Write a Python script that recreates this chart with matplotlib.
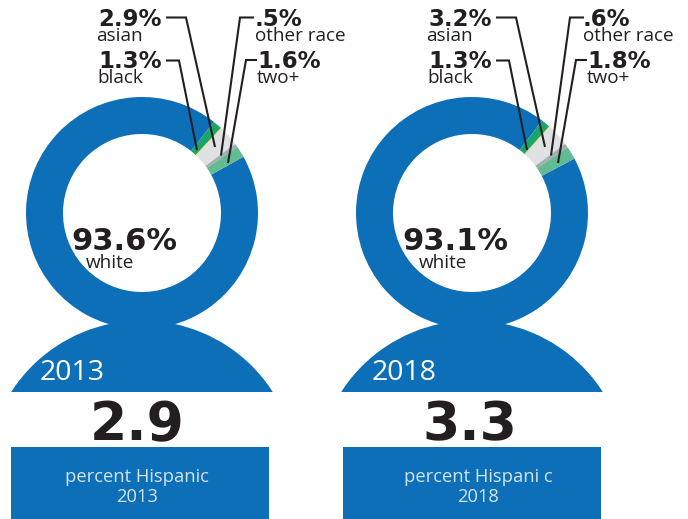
import matplotlib
matplotlib.use("Agg")
import matplotlib.pyplot as plt
from matplotlib.patches import Circle, Rectangle
import numpy as np

W, H = 688, 519
years = ["2013", "2018"]
groups = ["white", "black", "asian", "other race", "two+"]
shares_2013 = [93.6, 1.3, 2.9, 0.5, 1.6]
shares_2018 = [93.1, 1.3, 3.2, 0.6, 1.8]
hispanic = ["2.9", "3.3"]
white_labels = ["93.6%", "93.1%"]
black_labels = ["1.3%", "1.3%"]
asian_labels = ["2.9%", "3.2%"]
other_labels = [".5%", ".6%"]
two_labels = ["1.6%", "1.8%"]
footer_labels = ["percent Hispanic\n2013", "percent Hispani c\n2018"]

BLUE = "#0c6fb8"
INK = "#231f20"
slice_colors = [BLUE, "#1aa56f", "#e0e1e3", "#a9acb2", "#62bb92"]
NUM = "DejaVu Sans"
TXT = "Open Sans"
R_OUT, R_IN = 116, 79

fig = plt.figure(figsize=(W / 100, H / 100), dpi=100)
ax = fig.add_axes([0, 0, 1, 1])


def Y(y):
    return H - y


def panel(i, cx, shares, start_cw, yr_x, rect_x, foot_x, num_x, white_x, wl_x, dx, odx):
    cy = 213
    body = Circle((cx, Y(476)), 155.5, color=BLUE, lw=0, zorder=1)
    ax.add_patch(body)
    body.set_clip_path(Rectangle((0, Y(392)), W, 392, transform=ax.transData))
    wedges, _ = ax.pie(shares, colors=slice_colors, center=(cx, Y(cy)), radius=R_OUT,
                       startangle=90 - start_cw, counterclock=False,
                       wedgeprops=dict(width=R_OUT - R_IN, lw=0, zorder=2))
    # thin yellow seam between the black and asian slices
    a = np.deg2rad(wedges[1].theta1)
    ax.plot([cx + R_IN * np.cos(a), cx + R_OUT * np.cos(a)],
            [Y(cy) + R_IN * np.sin(a), Y(cy) + R_OUT * np.sin(a)],
            color="#e8d96a", lw=0.6, zorder=3, solid_capstyle="butt")

    ax.add_patch(Rectangle((rect_x, 0), 258, H - 447, color=BLUE, lw=0, zorder=1))
    ax.text(yr_x, Y(373), years[i], color="white", family=TXT, fontsize=20.5,
            ha="left", va="center", zorder=5)
    ax.text(num_x, Y(425), hispanic[i], color=INK, family=NUM, weight="bold", fontsize=38.5,
            ha="center", va="center", zorder=5)
    ax.text(foot_x, Y(487), footer_labels[i], color="#d5e3ef", family=TXT, fontsize=13.2,
            ha="center", va="center", linespacing=1.15, zorder=5)
    ax.text(white_x, Y(242), white_labels[i], color=INK, family=NUM, weight="bold", fontsize=22,
            ha="center", va="center", zorder=5)
    ax.text(wl_x, Y(263), groups[0], color=INK, family=TXT, fontsize=13.6,
            ha="center", va="center", zorder=5)

    big = dict(color=INK, family=NUM, weight="bold", fontsize=16.5, va="center", zorder=5)
    small = dict(color=INK, family=TXT, fontsize=13.6, va="center", zorder=5)
    ax.text(dx + 162, Y(19), asian_labels[i], ha="right", **big)
    ax.text(dx + 96, Y(36), groups[2], ha="left", **small)
    ax.text(dx + 162, Y(62), black_labels[i], ha="right", **big)
    ax.text(dx + 97, Y(78), groups[1], ha="left", **small)
    ax.text(odx + 255, Y(19), other_labels[i], ha="left", **big)
    ax.text(odx + 255, Y(36), groups[3], ha="left", **small)
    ax.text(dx + 257, Y(62), two_labels[i], ha="left", **big)
    ax.text(dx + 257, Y(78), groups[4], ha="left", **small)

    leaders = [
        [(166, 17.5), (186, 17.5), (215, 147)],
        [(254, 17.5), (240, 17.5), (221, 155.5)],
        [(257, 60), (246, 60), (228, 163)],
        [(166, 60.5), (179, 60.5), (197, 150)],
    ]
    for pts in leaders:
        ax.plot([p[0] + dx for p in pts], [Y(p[1]) for p in pts], color=INK, lw=1.5,
                zorder=4, solid_joinstyle="miter", solid_capstyle="butt")


panel(0, 142, shares_2013, 61, 40, 11, 137, 137, 124, 110, 0, 0)
panel(1, 472, shares_2018, 62, 372, 343, 478, 470, 455, 443, 330, 328)

ax.set_xlim(0, W)
ax.set_ylim(0, H)
ax.set_aspect("auto")
ax.axis("off")
fig.savefig("out.png", dpi=100)
